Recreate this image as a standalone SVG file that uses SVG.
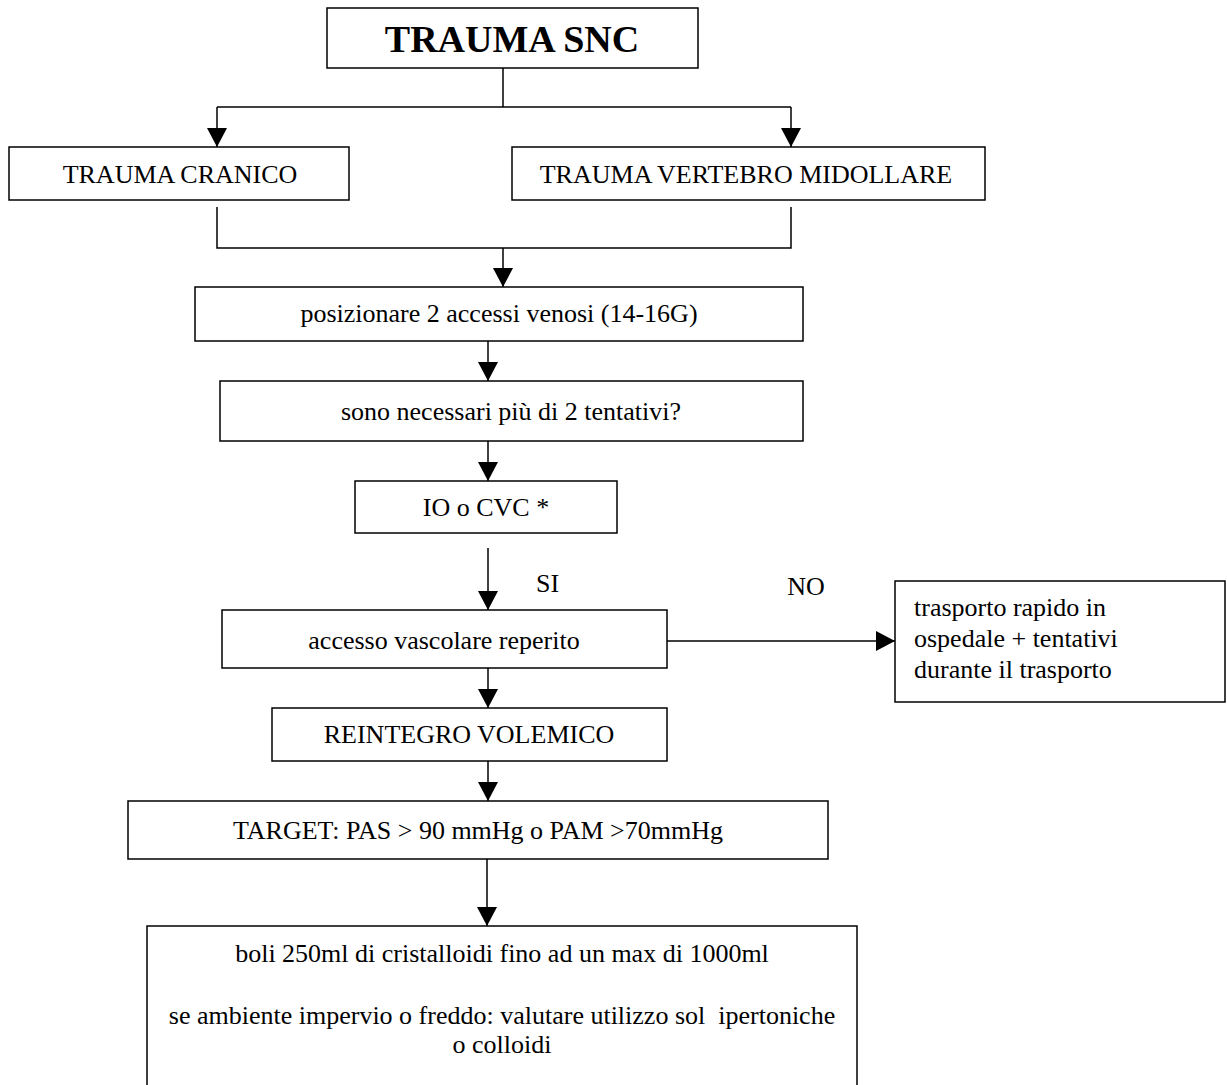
<svg xmlns="http://www.w3.org/2000/svg" width="1227" height="1085" viewBox="0 0 1227 1085">
<style>
.box{fill:#fff;stroke:#000;stroke-width:1.5}
.t{font-family:"Liberation Serif","Times New Roman",serif;font-size:26px;fill:#000}
.c{text-anchor:middle}
.ln{fill:none;stroke:#000;stroke-width:1.5}
</style>
<defs>
<marker id="ah" markerUnits="userSpaceOnUse" markerWidth="20" markerHeight="20" refX="19" refY="10" orient="auto">
<path d="M0,0 L19,10 L0,20 Z" fill="#000"/>
</marker>
</defs>
<rect width="1227" height="1085" fill="#fff"/>
<g id="connectors">
<path class="ln" d="M503,68 V107"/>
<path class="ln" d="M217,107 H791"/>
<path class="ln" d="M217,107 V147" marker-end="url(#ah)"/>
<path class="ln" d="M791,107 V147" marker-end="url(#ah)"/>
<path class="ln" d="M217,207 V248 H791 V207"/>
<path class="ln" d="M503,248 V287" marker-end="url(#ah)"/>
<path class="ln" d="M488,341 V381" marker-end="url(#ah)"/>
<path class="ln" d="M488,441 V481" marker-end="url(#ah)"/>
<path class="ln" d="M488,548 V610" marker-end="url(#ah)"/>
<path class="ln" d="M667,641 H895" marker-end="url(#ah)"/>
<path class="ln" d="M488,668 V708" marker-end="url(#ah)"/>
<path class="ln" d="M488,761 V801" marker-end="url(#ah)"/>
<path class="ln" d="M487,859 V926" marker-end="url(#ah)"/>
<text class="t" x="536" y="592">SI</text>
<text class="t c" x="806" y="595">NO</text>
</g>
<g id="n-snc">
<rect class="box" x="327" y="8" width="371" height="60"/>
<text class="t c" x="512" y="52" style="font-size:38px;font-weight:bold">TRAUMA SNC</text>
</g>
<g id="n-cranico">
<rect class="box" x="9" y="147" width="340" height="53"/>
<text class="t c" x="180" y="183">TRAUMA CRANICO</text>
</g>
<g id="n-vertebro">
<rect class="box" x="512" y="147" width="473" height="53"/>
<text class="t c" x="746" y="183">TRAUMA VERTEBRO MIDOLLARE</text>
</g>
<g id="n-accessi">
<rect class="box" x="195" y="287" width="608" height="54"/>
<text class="t c" x="499" y="322">posizionare 2 accessi venosi (14-16G)</text>
</g>
<g id="n-tentativi">
<rect class="box" x="220" y="381" width="583" height="60"/>
<text class="t c" x="511" y="420">sono necessari più di 2 tentativi?</text>
</g>
<g id="n-io">
<rect class="box" x="355" y="481" width="262" height="52"/>
<text class="t c" x="486" y="516">IO o CVC *</text>
</g>
<g id="n-reperito">
<rect class="box" x="222" y="610" width="445" height="58"/>
<text class="t c" x="444" y="649">accesso vascolare reperito</text>
</g>
<g id="n-trasporto">
<rect class="box" x="895" y="581" width="330" height="121"/>
<text class="t" x="914" y="616">trasporto rapido in</text>
<text class="t" x="914" y="647">ospedale + tentativi</text>
<text class="t" x="914" y="678">durante il trasporto</text>
</g>
<g id="n-reintegro">
<rect class="box" x="272" y="708" width="395" height="53"/>
<text class="t c" x="469" y="743">REINTEGRO VOLEMICO</text>
</g>
<g id="n-target">
<rect class="box" x="128" y="801" width="700" height="58"/>
<text class="t c" x="478" y="839">TARGET: PAS &gt; 90 mmHg o PAM &gt;70mmHg</text>
</g>
<g id="n-boli">
<path class="ln" d="M147,1090 V926 H857 V1090"/>
<text class="t c" x="502" y="962">boli 250ml di cristalloidi fino ad un max di 1000ml</text>
<text class="t c" x="502" y="1024" style="white-space:pre">se ambiente impervio o freddo: valutare utilizzo sol  ipertoniche</text>
<text class="t c" x="502" y="1053">o colloidi</text>
</g>
</svg>
